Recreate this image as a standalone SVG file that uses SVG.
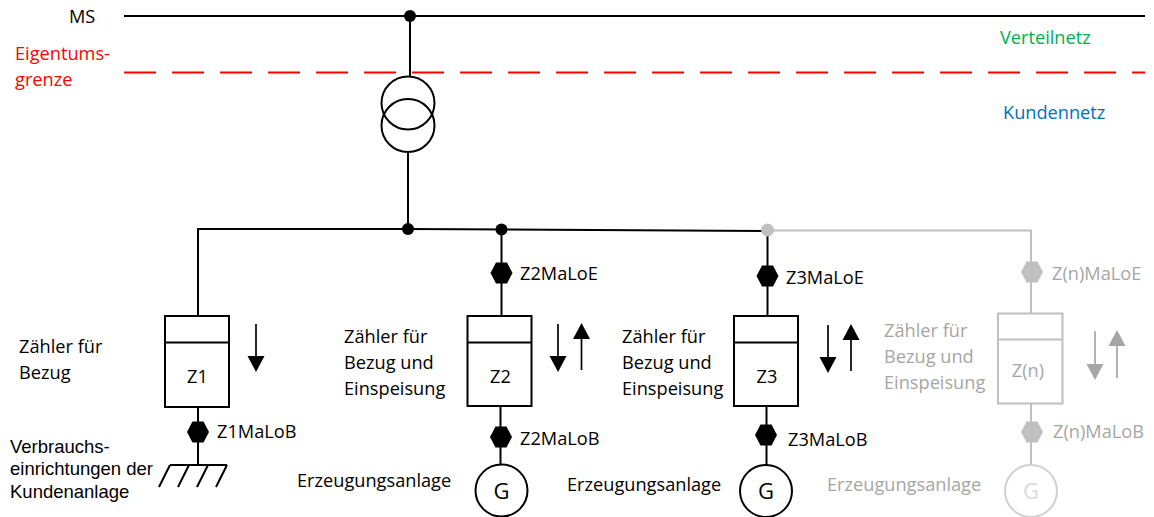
<svg xmlns="http://www.w3.org/2000/svg" width="1154" height="517" viewBox="0 0 1154 517">
<style>
text{font-family:"Open Sans","Lato",sans-serif;font-size:18.200px;fill:#000}
.a{font-family:"Liberation Sans",Arial,sans-serif;font-size:18.500px}
.m{text-anchor:middle}
.G{font-size:22px}
.l{fill:none;stroke:#000;stroke-width:2}
.box{fill:#fff;stroke:#000;stroke-width:2}
.g .l,.g .box{stroke:#bfbfbf}
.g .ci{stroke:#d0d0d0}
.g text{fill:#a6a6a6}
.ar{stroke:#000;stroke-width:1.700;fill:none}
.hd{fill:#000}
.g .ar{stroke:#a6a6a6}
.g .hd{fill:#a6a6a6}
.hex{fill:#000}
.g .hex{fill:#bfbfbf}
</style>
<defs>
<polygon id="hex" points="-11,0 -5.500,-10.500 5.500,-10.500 11,0 5.500,10.500 -5.500,10.500"/>
<polygon id="dn" points="-8.500,-16 8.500,-16 0,0"/>
<polygon id="up" points="-8.500,16 8.500,16 0,0"/>
</defs>
<g id="connectors">
<path class="l" d="M124 16H1145"/>
<path d="M124 72.500H1145" fill="none" stroke="#f00" stroke-width="2" stroke-dasharray="32 16"/>
<path class="l" d="M410 16V76"/>
<path class="l" d="M408 152V229"/>
<path class="l" d="M198 316V229H408L767 231"/>
<path class="l" d="M501.500 230V316M500.500 406V465"/>
<path class="l" d="M767.500 231V316M766.500 406V465"/>
<path class="l" style="stroke:#bfbfbf" d="M767 230.500H1031V313M1031 403V465"/>
<path class="l" d="M198 407V465"/>
</g>
<g id="bus-dots">
<circle cx="410" cy="16" r="6"/>
<circle cx="408" cy="229" r="6"/>
<circle cx="501.500" cy="229.500" r="6"/>
<circle cx="767.500" cy="230" r="6.500" fill="#bfbfbf"/>
</g>
<g id="transformer">
<circle class="l" cx="408" cy="103" r="26.500"/>
<circle class="l" cx="408" cy="125.500" r="26.500"/>
</g>
<g id="labels">
<text x="69" y="23">MS</text>
<text x="15" y="60" style="fill:#f00">Eigentums-</text>
<text x="15" y="86" style="fill:#f00">grenze</text>
<text x="1000" y="44" style="fill:#00b050">Verteilnetz</text>
<text x="1003" y="119" style="fill:#0070c0">Kundennetz</text>
</g>
<g id="z1">
<rect class="box" x="165" y="316" width="64" height="91"/>
<path class="l" d="M165 342.500H229"/>
<text class="m" x="197.500" y="383">Z1</text>
<path class="ar" d="M256 324V358"/><use href="#dn" class="hd" x="256" y="372"/>
<use href="#hex" class="hex" x="198" y="432"/>
<text x="217" y="438">Z1MaLoB</text>
<text x="19" y="353">Zähler für</text>
<text x="19" y="379">Bezug</text>
<text class="a" x="10" y="453">Verbrauchs-</text>
<text class="a" x="10" y="475">einrichtungen der</text>
<text class="a" x="10" y="498">Kundenanlage</text>
<path class="l" d="M170 465H227M170 465L159 487M189 465L178 487M208 465L197 487M227 465L216 487"/>
</g>
<g id="z2">
<rect class="box" x="467.500" y="316" width="64" height="90"/>
<path class="l" d="M467.500 342.500H531.500"/>
<text class="m" x="500.500" y="383">Z2</text>
<path class="ar" d="M558 324V358"/><use href="#dn" class="hd" x="558" y="372"/>
<path class="ar" d="M581.500 337V370"/><use href="#up" class="hd" x="581.500" y="323"/>
<use href="#hex" class="hex" x="501.500" y="273"/>
<use href="#hex" class="hex" x="501" y="437"/>
<text x="520" y="280">Z2MaLoE</text>
<text x="520" y="445">Z2MaLoB</text>
<text x="344" y="343">Zähler für</text>
<text x="344" y="369">Bezug und</text>
<text x="344" y="395">Einspeisung</text>
<circle class="box" cx="501.500" cy="490.500" r="26"/>
<text class="m G" x="501.500" y="499">G</text>
<text x="297" y="487">Erzeugungsanlage</text>
</g>
<g id="z3">
<rect class="box" x="734" y="316" width="64" height="90"/>
<path class="l" d="M734 342.500H798"/>
<text class="m" x="767" y="383">Z3</text>
<path class="ar" d="M828 325V359"/><use href="#dn" class="hd" x="828" y="373"/>
<path class="ar" d="M851 338V371"/><use href="#up" class="hd" x="851" y="324"/>
<use href="#hex" class="hex" x="767.500" y="276"/>
<use href="#hex" class="hex" x="766" y="435"/>
<text x="786" y="284">Z3MaLoE</text>
<text x="788" y="446">Z3MaLoB</text>
<text x="622" y="343">Zähler für</text>
<text x="622" y="369">Bezug und</text>
<text x="622" y="395">Einspeisung</text>
<circle class="box" cx="766" cy="491" r="26"/>
<text class="m G" x="766" y="499">G</text>
<text x="567" y="491">Erzeugungsanlage</text>
</g>
<g id="zn" class="g">
<rect class="box" x="998" y="313.500" width="64.500" height="90"/>
<path class="l" d="M998 339.500H1062.500"/>
<text class="m" x="1028" y="377">Z(n)</text>
<path class="ar" d="M1095 331V365"/><use href="#dn" class="hd" x="1095" y="380"/>
<path class="ar" d="M1117 344V378"/><use href="#up" class="hd" x="1117" y="330"/>
<use href="#hex" class="hex" x="1032" y="272"/>
<use href="#hex" class="hex" x="1032" y="432"/>
<text x="1052" y="280">Z(n)MaLoE</text>
<text x="1053" y="438">Z(n)MaLoB</text>
<text x="884" y="337">Zähler für</text>
<text x="884" y="363">Bezug und</text>
<text x="884" y="389">Einspeisung</text>
<circle class="box ci" cx="1031" cy="491" r="26"/>
<text class="m G" x="1031" y="499" style="fill:#d9d9d9">G</text>
<text x="827" y="491">Erzeugungsanlage</text>
</g>
</svg>
